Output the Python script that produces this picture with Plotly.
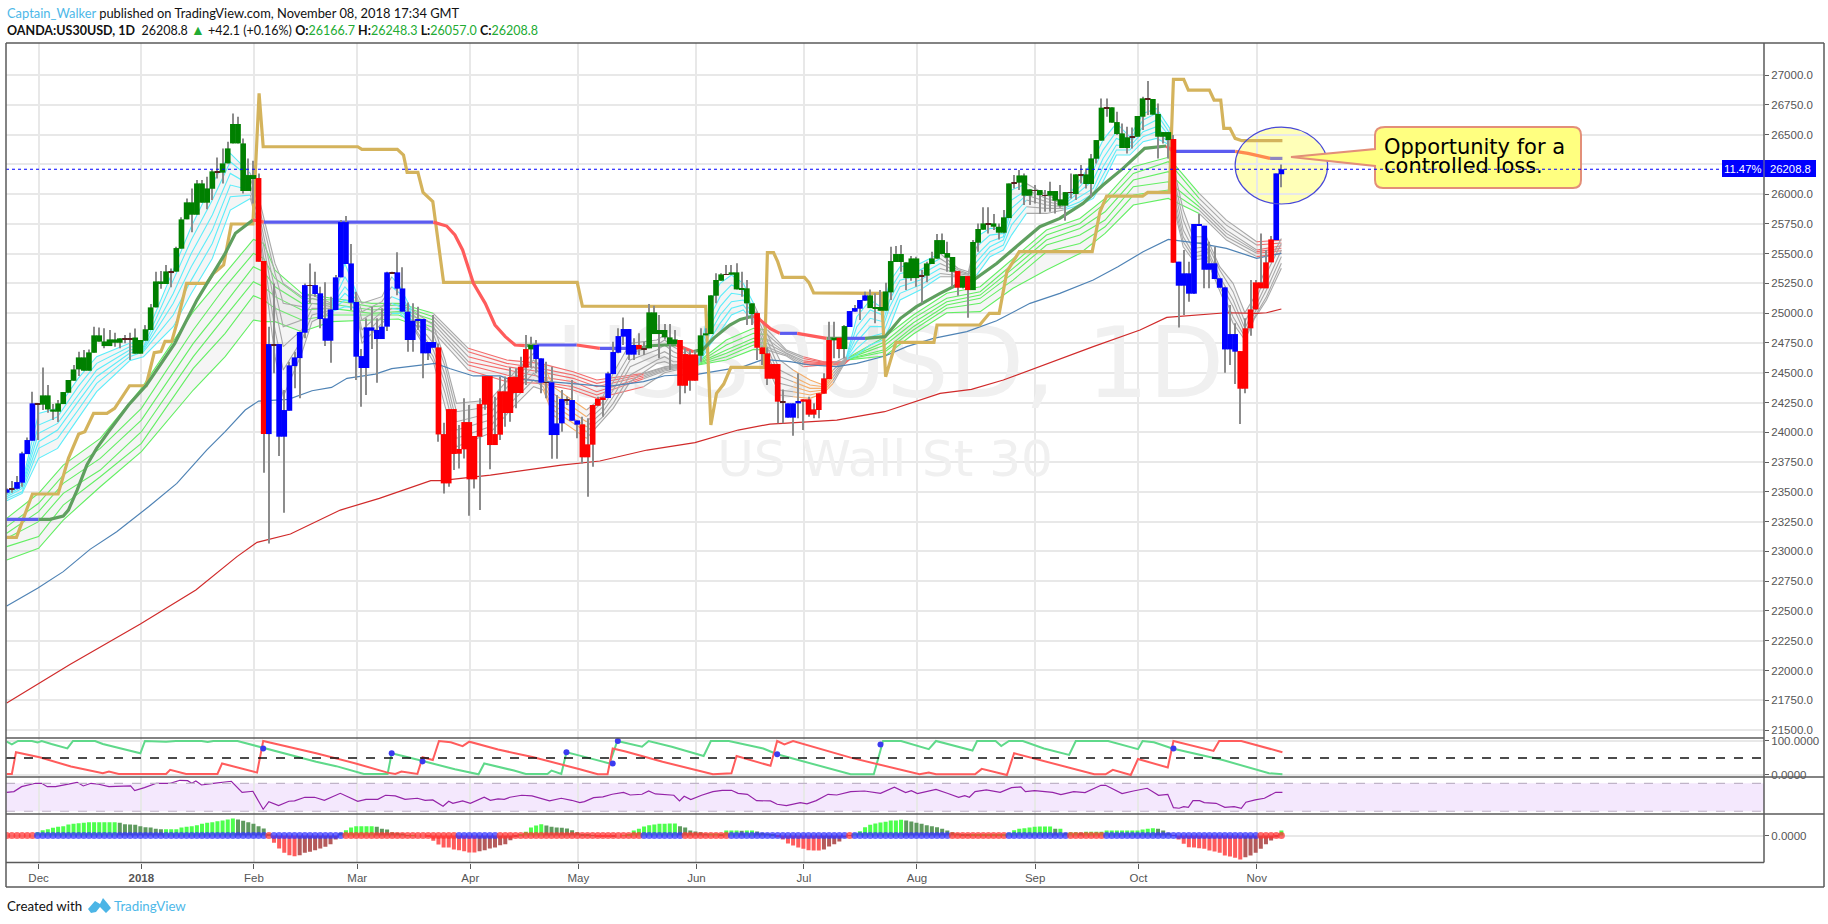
import plotly.graph_objects as go

# ---------- candles (prices) ----------
kind_runs = [("B",1),("D",1),("B",4),("D",1),("G",16),("D",2),("G",7),("D",1),("G",8),("D",1),("G",7),("R",2),("B",1),("D",1),("B",6),("D",1),("B",15),("D",1),("B",8),
("R",18),("G",1),("B",2),("D",1),("B",3),("D",1),("B",2),("R",5),("B",6),("R",1),("D",1),("G",6),("R",4),("G",5),("D",1),("G",5),("R",5),("D",1),("B",3),("R",6),("G",1),("R",1),("G",1),("B",4),
("G",10),("D",1),("G",6),("R",1),("G",1),("R",1),("G",3),("D",1),("G",4),("D",1),("G",3),("D",1),("G",1),("D",1),("G",4),("D",1),("G",1),("D",1),("G",4),("D",1),("G",4),("D",1),("G",2),("D",1),("G",4),("R",1),("B",12),("R",7),("B",2)]
bar_kinds = "".join(k * c for k, c in kind_runs)
body_top = [23521,23529,23582,23823,23935,24243,24243,24310,24310,24192,24243,24338,24439,24528,24629,24629,24671,24814,24814,24763,
24780,24780,24789,24789,24789,24796,24775,24865,25049,25267,25267,25351,25351,25547,25788,25931,25931,26090,26090,26048,
26191,26191,26258,26384,26589,26589,26426,26160,26160,26135,25438,24741,24741,24741,24187,24562,24629,24842,25236,25236,
25236,25167,24957,25032,25301,25765,25765,25418,25094,24640,24881,24881,24859,24887,25343,25343,25343,25208,25013,24937,
24951,24951,24758,24758,24713,23985,24195,24195,23860,24086,24086,23969,24237,24472,24472,23985,24344,24344,24464,24464,
24551,24699,24733,24733,24621,24420,24420,24075,24279,24276,24271,24100,24067,23899,24229,24282,24293,24495,24674,24808,
24867,24867,24733,24733,24705,25007,25007,24859,24859,24797,24780,24775,24657,24654,24654,24814,24831,25150,25279,25326,
25329,25343,25343,25209,25209,25083,25001,24713,24663,24573,24573,24257,24243,24243,24263,24277,24277,24193,24327,24453,
24775,24794,24794,24892,25018,25043,25111,25150,25150,25052,25052,25183,25438,25497,25497,25427,25460,25460,25315,25418,
25460,25614,25614,25505,25472,25354,25312,25312,25598,25707,25754,25754,25754,25726,25805,26090,26096,26157,26157,26040,
26034,26034,25992,26026,26026,25956,26017,26017,26166,26166,26166,26300,26454,26726,26726,26729,26605,26510,26477,26485,
26656,26804,26799,26799,26673,26521,26521,26463,25433,25335,25335,25749,25749,25735,25419,25419,25293,25217,24825,24825,
24682,24873,25032,25259,25259,25427,25620,26174,26209]
body_bottom = [23493,23521,23526,23577,23817,23929,24237,24232,24192,24173,24173,24237,24332,24433,24528,24517,24517,24668,24761,24724,
24724,24752,24752,24783,24783,24660,24660,24769,24859,25049,25245,25245,25345,25349,25542,25788,25827,25827,25928,25928,
26045,26185,26180,26258,26426,26426,26026,26026,26127,25432,23985,23985,24733,23963,23963,24181,24556,24623,24836,25231,
25161,24951,24769,24769,25027,25301,25413,25088,24635,24540,24540,24853,24783,24783,24887,25337,25206,25013,24775,24775,
24937,24663,24663,24710,23982,23571,23571,23818,23820,23857,23605,23605,23963,24232,23893,23893,23980,24162,24162,24330,
24330,24543,24696,24615,24416,24416,23977,23977,24075,24270,24097,24064,23790,23790,23896,24223,24271,24288,24489,24668,
24803,24652,24652,24699,24699,24705,24825,24825,24797,24741,24741,24391,24391,24433,24433,24643,24814,24825,25147,25273,
25323,25323,25200,25195,25083,24993,24710,24657,24450,24450,24257,24251,24123,24123,24243,24257,24148,24148,24187,24324,
24447,24772,24699,24699,24884,25013,25038,25105,25043,25043,25021,25021,25175,25430,25430,25295,25295,25295,25309,25315,
25413,25458,25497,25466,25348,25214,25214,25194,25194,25592,25701,25748,25726,25676,25676,25799,26090,26096,25987,25987,
26028,25992,25986,25987,25945,25903,25903,26011,26001,26160,26085,26085,26297,26449,26720,26600,26505,26387,26387,26479,
26482,26650,26793,26667,26482,26482,26454,25424,25231,25231,25164,25164,25735,25365,25365,25287,25214,24696,24696,24677,
24366,24366,24873,25032,25209,25209,25427,25614,26167]
wick_high = [23529,23591,23633,23837,23957,24341,24243,24545,24397,24237,24271,24338,24439,24565,24677,24691,24696,24887,24881,24873,
24859,24836,24789,24817,24836,24871,24775,24900,25077,25348,25354,25404,25376,25558,25805,25964,26048,26118,26118,26146,
26202,26308,26384,26440,26678,26650,26468,26300,26280,26174,25438,24887,25250,24741,24355,24593,24677,24842,25250,25418,
25348,25222,25259,25139,25320,25782,25816,25581,25180,24700,24957,25055,24957,25041,25348,25348,25511,25385,25090,25083,
25055,24951,24758,24985,24745,24080,24195,24195,24061,24285,24229,23969,24285,24472,24472,24299,24468,24468,24545,24537,
24635,24817,24803,24775,24621,24593,24551,24313,24355,24300,24439,24100,24131,24117,24229,24299,24293,24509,24761,24873,
24965,24867,24789,24831,24761,25077,25063,24985,24909,24909,24859,24775,24705,24691,24685,24873,24873,25150,25335,25335,
25405,25405,25419,25349,25279,25083,25013,24713,24713,24573,24573,24360,24243,24243,24495,24277,24299,24243,24327,24495,
24929,24929,24794,24900,25018,25069,25111,25181,25200,25167,25195,25256,25558,25564,25572,25427,25481,25474,25362,25432,
25516,25665,25670,25600,25472,25354,25312,25312,25614,25754,25889,25889,25833,25754,25866,26090,26160,26202,26174,26040,
26076,26034,26034,26104,26026,26076,26017,26174,26166,26244,26216,26336,26454,26804,26804,26729,26692,26594,26566,26560,
26656,26818,26950,26799,26762,26521,26521,26496,25433,25530,25433,25749,25833,25735,25600,25558,25293,25223,25069,24915,
24682,24957,25279,25279,25670,25530,25648,26174,26248]
wick_low = [23487,23493,23521,23543,23817,23929,23935,24187,24164,24103,24086,24237,24332,24433,24472,24517,24517,24668,24761,24705,
24724,24719,24705,24747,24607,24660,24660,24769,24859,25049,25206,25245,25217,25349,25542,25788,25679,25827,25928,25872,
25950,26132,26090,26258,26426,26426,26006,26026,25922,25432,23661,23067,24495,23801,23325,24181,24369,24285,24789,25083,
25139,24873,24724,24584,25027,25301,25413,25027,24439,24215,24313,24699,24416,24783,24850,25337,25150,25013,24677,24677,
24860,24453,24607,24710,23921,23487,23543,23683,23697,23781,23300,23529,23347,24190,23689,23893,23935,24047,24089,24201,
24330,24397,24543,24495,24327,24286,23778,23778,24005,24230,24097,23950,23739,23459,23711,24223,24131,24288,24489,24663,
24733,24607,24607,24649,24649,24705,24825,24621,24780,24523,24741,24235,24327,24349,24433,24593,24814,24825,25083,25273,
25323,25323,25200,25139,24900,24900,24607,24565,24397,24450,24075,24075,24123,23972,24117,24019,24131,24117,24117,24324,
24447,24621,24621,24621,24884,25013,24943,25105,25043,24915,25021,25021,25110,25430,25348,25194,25273,25222,25083,25259,
25413,25458,25497,25348,25222,25147,25208,24962,25194,25516,25701,25670,25698,25620,25670,25799,26048,26034,25908,25908,
25922,25833,25852,25852,25838,25886,25777,25964,25950,26090,26048,25978,26258,26449,26650,26600,26496,26387,26342,26384,
26482,26538,26664,26667,26300,26426,26300,25424,24881,24985,25097,25161,25735,25209,25209,25287,25214,24500,24565,24405,
24069,24327,24811,25027,25209,25209,25427,25614,26057]

# ---------- ticks ----------
month_pos = [6.2,26.2,48.1,68.2,90.2,111.2,134.2,155.1,177.1,200.1,220.2,243.2]
month_labels = ["Dec","<b>2018</b>","Feb","Mar","Apr","May","Jun","Jul","Aug","Sep","Oct","Nov"]
price_ticks = [21500,21750,22000,22250,22500,22750,23000,23250,23500,23750,24000,24250,24500,24750,25000,25250,25500,25750,26000,26250,26500,26750,27000]
price_labels = ["21500.0","21750.0","22000.0","22250.0","22500.0","22750.0","23000.0","23250.0","23500.0","23750.0","24000.0","24250.0","24500.0","24750.0","25000.0","25250.0","25500.0","25750.0","26000.0","","26500.0","26750.0","27000.0"]

# ---------- moving averages as read knots ----------
red_x = [0,12.3,26,36.8,44.8,48.7,55.2,64.9,72.5,82.5,84.4,94.1,107.9,115.4,124.6,133.9,142.3,148.5,161.5,170.8,181.6,187.7,193.9,200,211.4,220.5,225.7,237.3,243.2,245.1,248]
red_y = [21727,22050,22390,22676,22956,23076,23146,23347,23445,23594,23594,23641,23725,23759,23851,23913,24019,24069,24103,24173,24327,24361,24439,24537,24719,24859,24965,25004,24999,25004,25035]
blue_x = [0,6,11,16.2,21.4,27.6,33.1,38.9,42.5,46.4,49,54.8,59.4,63.2,66.2,71.7,74.9,83.4,86.3,90.8,96,97.3,109.6,116.7,123.9,128,134.6,143.3,147.2,152.4,156.3,161.5,165.4,170.9,175.1,180.3,186.8,192.6,199.1,204.9,211.4,216.2,221.1,226,232.1,237.3,243.2,248]
blue_y = [22541,22690,22830,23017,23165,23375,23571,23851,24005,24187,24262,24276,24349,24377,24453,24489,24534,24579,24534,24473,24473,24453,24411,24383,24425,24475,24489,24551,24612,24593,24565,24551,24579,24641,24719,24789,24845,24937,25083,25167,25279,25390,25516,25620,25587,25545,25461,25503]
gold_x = [0,1.9,5,10,12,14,15.2,16.9,19.5,21,23.9,27.1,28.7,30,30.8,32.1,33.1,35,38.9,40.2,42.2,43.7,47.9,49.1,49.9,68.3,69.1,76,77.2,77.9,80,81,82.9,85,111,112,136,137,138.1,139.5,140.9,147.4,148,149.2,150,151,155.2,156.1,157,170.2,171,173,180.4,181,189.3,191.2,193.1,194.6,197,211.2,212.7,214,221,222,226.2,227,229,229.9,234,234.9,236.2,236.8,238,239,240.3,248.2]
gold_y = [23118,23118,23482,23482,23781,23985,24005,24159,24159,24201,24391,24391,24668,24677,24763,24763,24915,25250,25250,25334,25405,25749,25749,26846,26398,26398,26376,26376,26328,26183,26183,26015,25937,25259,25259,25060,25058,24061,24327,24405,24545,24545,25508,25508,25433,25301,25301,25256,25170,25167,24467,24755,24755,24901,24901,24999,24999,25349,25517,25517,25852,25984,25984,26015,26015,26964,26964,26874,26874,26790,26790,26552,26552,26468,26449,26449]
thick_x = [0,6.2,8.4,11,12,13.7,15.6,17.5,19.8,23.7,27.2,32.7,37,42.5,44.5,47.9,50,83,85.6,87.2,88.7,90.8,93.1,95,97,98.9,100.8,102.8,110.9,115.4,122.2,123.2,125.2,128,130.3,133.6,135.5,137.5,140.7,142.7,145.3,146.6,148.5,150.4,153.8,159.5,163.4,167,170.9,173.9,177,181.6,184.8,188.1,192.6,196.8,201,204.9,209.4,213.3,217.2,221.4,225.6,227,239,241.5,245.8,248.2]
thick_y = [23269,23269,23269,23297,23347,23515,23725,23865,24005,24229,24397,24747,25110,25502,25671,25783,25765,25765,25732,25657,25531,25251,25083,24901,24803,24733,24727,24733,24733,24705,24705,24705,24727,24733,24733,24677,24696,24789,24901,24948,24976,24943,24873,24831,24831,24789,24789,24789,24803,24957,25055,25167,25236,25278,25418,25572,25726,25796,25922,26076,26216,26384,26404,26359,26359,26342,26300,26300]

# ---------- moving-average ribbons, top to bottom at each knot ----------
slow_ribbon = [
[0,23277,23208,23152,23110,23040,22928],[6.2,23488,23404,23334,23250,23124,23026],[11,23725,23641,23571,23487,23389,23263],
[18.2,23949,23865,23781,23683,23627,23543],[26.2,24369,24201,24103,24005,23907,23837],[36.3,25013,24859,24747,24635,24537,24355],
[42.5,25334,25222,25083,24971,24831,24635],[48,25620,25502,25390,25264,25147,24943],[50,25586,25460,25348,25222,25111,24929],
[52.2,25362,25292,25222,25139,25041,24929],[57.4,25167,25125,25083,25027,24943,24845],[63.2,25125,25111,25077,25041,24985,24929],
[71,25083,25055,25027,24999,24985,24943],[76.2,25083,25069,25041,25013,24985,24951],[83,24999,24971,24943,24915,24880,24845],
[89.8,24705,24677,24635,24593,24565,24523],[97.3,24607,24579,24551,24523,24481,24425],[103.8,24579,24537,24509,24467,24425,24411],
[110.2,24509,24481,24453,24425,24383,24355],[114.8,24439,24411,24383,24341,24313,24285],[123.9,24495,24488,24475,24462,24450,24383],
[128,24551,24545,24535,24525,24515,24500],[134.5,24590,24585,24580,24575,24570,24565],[140,24775,24733,24691,24663,24635,24607],
[145.3,24873,24831,24789,24761,24733,24696],[148,24860,24820,24780,24745,24715,24690],[151.7,24691,24680,24665,24660,24650,24640],
[155,24635,24620,24600,24585,24570,24551],[159,24593,24587,24581,24575,24570,24565],[162.8,24593,24588,24582,24576,24570,24565],
[164,24635,24630,24625,24620,24615,24610],[170.9,24803,24761,24733,24696,24677,24641],[176.4,24985,24957,24920,24887,24859,24825],
[182.9,25167,25125,25097,25069,25041,25004],[189.4,25222,25180,25152,25125,25083,25013],[195.8,25460,25418,25376,25334,25278,25209],
[202.3,25698,25656,25614,25572,25516,25362],[208.8,25796,25754,25712,25656,25586,25502],[213.7,25964,25922,25852,25782,25726,25670],
[219.2,26230,26174,26118,26062,25992,25908],[226,26309,26272,26188,26104,26034,25964],[232,26006,25964,25922,25894,25866,25838],
[237.3,25782,25740,25698,25670,25642,25614],[243.2,25600,25573,25531,25517,25503,25475],[248,25614,25590,25566,25545,25525,25503]]
fast_ribbon = [
[0,23501,23487,23473,23459,23445,23426],[3,23577,23557,23543,23529,23501,23487],[6.2,24159,24061,23991,23921,23865,23781],
[9.9,24201,24131,24075,24019,23949,23865],[13.9,24453,24383,24313,24257,24187,24117],[17.5,24635,24579,24523,24467,24411,24341],
[23.9,24747,24719,24691,24663,24635,24601],[26.6,24761,24719,24705,24691,24677,24635],[32.4,25362,25278,25166,25083,24985,24887],
[35.9,25726,25614,25502,25390,25278,25166],[40,26090,25950,25824,25698,25586,25460],[43.5,26342,26272,26174,26076,25978,25866],
[47.4,26174,26132,26076,26034,25992,25964],[49,25978,25908,25852,25796,25740,25712],[52.2,25418,25334,25194,25055,24859,24635],
[53.8,25250,25083,24887,24719,24523,24299],[57.4,25139,25055,24943,24859,24775,24663],[59.4,25152,25125,25083,25041,24985,24929],
[63.2,25083,25069,25055,25041,25027,25013],[65.8,25418,25306,25222,25167,25111,25055],[68.1,25167,25139,25111,25083,25069,25041],
[69.1,25083,25013,24943,24859,24789,24747],[73,25139,25097,25055,25013,24971,24915],[74.9,25306,25222,25139,25083,25041,24999],
[76.5,25222,25167,25111,25055,25027,24999],[78.8,25027,24999,24971,24943,24915,24900],[83,24900,24830,24747,24691,24635,24593],
[85.3,24607,24551,24481,24411,24327,24215],[87.5,24243,24173,24089,24019,23949,23879],[94,24271,24215,24159,24103,24047,23991],
[98.6,24495,24439,24383,24327,24271,24215],[102.5,24663,24607,24551,24495,24439,24383],[104.4,24579,24523,24467,24425,24383,24355],
[106.3,24383,24327,24271,24229,24187,24145],[112.8,24187,24131,24089,24047,24005,23949],[116,24299,24257,24215,24173,24131,24103],
[118,24495,24425,24355,24299,24243,24201],[121.3,24747,24663,24607,24551,24481,24425],[126.5,24775,24733,24691,24649,24607,24579],
[128,24817,24775,24733,24677,24635,24593],[129.7,24761,24719,24677,24635,24593,24565],[132,24691,24663,24635,24607,24593,24579],
[134.5,24590,24585,24580,24575,24570,24565],[136.8,25083,24971,24887,24831,24775,24733],[138.8,25251,25139,25055,24985,24915,24845],
[141,25321,25237,25167,25097,25041,24985],[143.3,25251,25195,25153,25111,25069,25027],[145.3,25083,25041,25013,24985,24957,24929],
[147.9,24831,24775,24719,24663,24607,24565],[150.4,24607,24523,24467,24411,24355,24313],[153,24523,24467,24425,24383,24341,24299],
[156.3,24439,24397,24369,24341,24313,24285],[158.9,24397,24383,24369,24355,24341,24327],[160.8,24579,24523,24495,24467,24439,24411],
[163.4,24635,24630,24625,24620,24615,24610],[165.4,24971,24887,24817,24761,24705,24649],[168,25111,25027,24957,24887,24803,24733],
[170.5,25041,24985,24929,24887,24831,24775],[171.8,25264,25194,25111,25055,24971,24887],[173.8,25390,25334,25278,25222,25167,25111],
[177.7,25418,25362,25320,25278,25236,25194],[181.6,25502,25460,25418,25376,25334,25306],[185.1,25376,25362,25348,25334,25320,25306],
[187.1,25348,25334,25326,25318,25306,25292],[188.7,25642,25558,25488,25432,25376,25320],[191.3,25712,25656,25600,25558,25516,25474],
[193.9,25712,25670,25642,25614,25572,25530],[195.5,26034,25950,25880,25810,25740,25656],[198.4,26090,26034,25992,25950,25894,25838],
[202.3,25992,25964,25936,25908,25880,25838],[205.6,25936,25922,25908,25894,25880,25866],[208.8,26118,26062,26020,25978,25936,25908],
[211.4,26286,26202,26118,26048,26006,25964],[213.3,26454,26370,26300,26230,26160,26104],[215.9,26594,26524,26468,26412,26370,26328],
[218.5,26482,26454,26426,26398,26370,26328],[221.1,26678,26622,26566,26524,26482,26440],[223.7,26720,26678,26622,26566,26524,26468],
[226.3,26552,26510,26482,26454,26426,26412],[227.6,26118,26034,25964,25894,25838,25796],[228.9,25866,25782,25698,25642,25600,25558],
[230.8,25642,25586,25544,25503,25475,25447],[233.4,25642,25600,25558,25531,25489,25461],[236,25391,25363,25307,25265,25223,25195],
[238.6,25251,25181,25111,25055,24971,24915],[240.9,25004,24929,24873,24831,24803,24775],[242.8,25139,25083,25041,25004,24971,24957],
[245.1,25391,25335,25251,25195,25139,25111],[248,25628,25586,25531,25475,25419,25377]]

# ---------- stochastic ----------
stoch_k_x = [0,1,2.2,4.9,6,6.8,8.7,11.8,12.9,17.2,18.7,26,26.9,31,32.9,37.9,39.1,40.2,44.9,49.5,52.5,60.2,64.1,69.5,74.1,74.9,80.2,87.2,91.8,92.9,98.7,101,105.2,106,107.9,108.9,111.5,117.3,118.8,123.6,124.9,129.4,135.6,137,140.5,147.2,149.9,156.2,164.2,168.7,170.5,174,179.4,180.8,182.5,187.9,188.8,192.4,193.5,195,197.7,201.8,206.7,208,214.3,220.1,221,223.2,226.8,236.6,245.6,248.2]
stoch_k_y = [98,90,100,100,96,100,91,78,100,100,91,64,100,98,100,100,97,100,100,81,69,39,26,3,3,64,44,17,2,34,13,3,3,13,3,67,57,34,100,83,100,83,56,100,100,78,61,34,2,2,100,100,76,100,93,72,100,100,85,100,100,78,59,100,100,76,100,96,78,44,5,2]
stoch_d_x = [0,1,1.8,6.4,12.5,18.7,19.9,21.8,31,31.8,34.9,41,41.9,48.7,49.9,52.5,60.2,67.9,74.1,75.6,76.8,79.9,80.9,82.9,84.1,86.4,88.7,90,95.6,102.5,108.7,111.5,115,116.9,117.9,120.4,127.6,137.4,141,142,148.6,149.9,151.3,153,164.2,177.6,179.4,180.8,188.4,189.7,194.6,196,211.6,213.8,215.2,218.7,220.1,225.9,227,234.8,235.9,240.2,248.2]
stoch_d_y = [3,3,67,52,25,5,10,3,3,15,3,3,34,7,100,91,64,34,7,3,10,3,52,44,100,96,85,98,75,52,29,17,2,2,78,69,39,2,5,56,27,100,90,100,51,2,7,2,2,18,0,64,2,2,15,0,47,22,100,71,100,100,67]
cross_x = [49.9,74.9,80.9,108.9,117.9,118.9,149.9,170,227]
cross_y = [78,64,40,67,34,100,61,90,78]

# ---------- RSI ----------
rsi_x = [0,1.4,2.9,4.5,5.6,6.8,7.9,9.5,11.8,13.7,14.9,16.4,17.9,19.9,24.1,24.9,26.8,29.1,31.8,33.7,35.2,36,36.8,37.9,40.2,43.7,45.8,47.9,49.9,51,52.9,54.9,56,58,59.9,61.8,64.9,68.3,69.9,72.2,73.7,75.6,77.5,79.9,81.4,82.9,84.9,86,86.8,88.7,90.2,92.9,94.1,95.6,96.8,97.9,100.2,102.2,105.6,107.9,109.9,
111.5,112.4,114.2,116,117.8,120,121.3,123.6,124.9,126.2,129.8,130.9,131.8,133.1,135.2,137.4,139.2,141,142.3,144.1,145.9,148.6,149.9,151.7,154.4,155.7,157.5,159.8,161.5,164.2,166.9,170,172.7,174.9,176,177.2,179,180.8,183,185.2,186.4,187.3,188.4,190.6,193.3,195.5,197.3,198.2,200,203.5,205.1,207.6,209.8,212.9,213.8,217,219.2,221.9,224.1,225.9,227,228.1,229,229.9,230.8,232.1,233,235.3,237,238.8,240.2,241.1,242.9,244.7,246.9,248.2]
rsi_y = [57.1,58.1,65.2,67.6,70,70,65.2,65.2,68.6,71.4,66.2,70,68.6,65.2,66.2,59.5,63.8,70,70,74.3,73.8,70,73.3,67.6,70,72.9,57.1,58.6,32.9,43.8,38.1,44.3,44.8,50,50,45.7,55.7,44.3,47.1,47.1,52.9,51.9,47.1,48.6,45.7,46.2,37.1,44.3,41.4,44.8,41.4,50,45.7,47.6,47.1,50,52.9,51.9,44.8,48.6,45.7,
42.4,43.8,49.5,50.5,54.3,57.1,53.3,54.3,59,54.8,52.9,44.8,51.4,46.7,52.9,58.1,60,60,55.7,54.3,45.2,44.8,40,38.1,42.4,40.5,45.2,54.3,53.3,58.1,59,55.7,64.3,56.7,59.5,55.2,58.1,61.4,55.7,50,52.4,50,58.1,60.5,57.1,63.8,64.8,58.1,59.5,57.1,53.8,58.1,56.7,67.1,67.1,55.2,59,62.9,52.9,54.3,35.2,34.3,36.7,35.7,45.2,45.2,42.4,41.4,35.7,36.7,34.3,42.9,46.2,48.6,57.1,57.1]

# ---------- squeeze momentum ----------
momentum = [0,0,0,0,0,0,10,16,19,23,26,28,33,35,37,38,40,40,40,40,40,40,38,34,33,32,28,25,24,20,19,19,19,19,24,26,28,31,35,38,40,43,45,48,51,48,44,40,35,28,21,5,
-22,-39,-52,-59,-62,-59,-52,-49,-44,-39,-34,-26,-12,8,16,24,28,28,28,28,26,20,18,10,8,6,1,1,0,0,-4,-16,-27,-36,-36,-42,-44,-47,-51,-51,-47,-44,-39,-36,-29,-26,-14,-4,
4,11,24,30,34,30,26,24,23,21,16,10,4,2,1,-2,-3,-3,-2,0,1,
3,15,20,27,31,33,35,35,36,36,28,24,15,12,10,6,6,6,5,15,15,15,14,15,15,12,8,6,2,
-5,-12,-24,-30,-36,-40,-44,-45,-45,-42,-33,-26,-18,-6,-1,
7,13,25,32,36,39,41,45,45,47,45,42,38,35,31,28,25,20,15,10,6,3,2,2,2,2,2,2,3,3,
8,16,20,22,24,26,27,27,27,20,20,8,10,10,9,11,11,11,11,15,15,15,15,15,15,15,18,20,22,20,15,8,
-1,-12,-25,-35,-36,-38,-40,-45,-48,-52,-60,-63,-67,-72,-65,-60,-52,-40,-26,-15,-5,15]
squeeze_spans = [(5,0),(50,1),(51,0),(65,1),(87,0),(95,1),(123,0),(131,1),(140,0),(163,1),(164,0),(183,1),(194,0),(206,1),(213,0),(243,1),(249,0)]

# ---------- price scale ----------
PRICE_LAST = 26208.8
AXIS_RANGE = [-0.14, 341.9]
MAIN_RANGE = [21433, 27269]

# ---------- page geometry helpers ----------
L, R, T, B = 6, 1764, 43, 863
def px(x): return (x - L) / (R - L)
def py(y): return (B - y) / (B - T)

n = len(body_top)
assert n == len(body_bottom) == len(wick_high) == len(wick_low) == len(bar_kinds) == len(momentum), (
    n, len(body_bottom), len(wick_high), len(wick_low), len(bar_kinds), len(momentum))
assert len(stoch_k_x) == len(stoch_k_y) and len(stoch_d_x) == len(stoch_d_y) and len(rsi_x) == len(rsi_y), (
    len(stoch_k_x), len(stoch_k_y), len(stoch_d_x), len(stoch_d_y), len(rsi_x), len(rsi_y))
xs = list(range(n))

def lookup(spans, v):
    for end, c in spans:
        if v <= end:
            return c
    return spans[-1][1]

def paths(x, y, spans, store):
    prev = None
    for k in range(len(x) - 1):
        c = lookup(spans, (x[k] + x[k + 1]) / 2)
        s = store.setdefault(c, ([], []))
        if prev != c:
            s[0].extend([None, x[k]]); s[1].extend([None, y[k]])
        s[0].append(x[k + 1]); s[1].append(y[k + 1])
        prev = c

CY, GN, GY, RD, OR = "#5cedfa", "#62ef62", "#a8a8a8", "#f46a6a", "#f5ae6a"
slow_spans = [(80,GN),(90,GY),(124,RD),(134,GY),(148,GN),(154,GY),(164,RD),(232,GN),(243,GY),(247,RD),(249,GY)]
fast_spans = [(48,CY),(64,GY),(68,CY),(75,GY),(79,CY),(105,GY),(114,OR),(134,GY),(145,CY),(154,GY),(161,OR),(164,GY),(183,CY),(188,GY),(200,CY),(207,GY),(226,CY),(249,GY)]

fig = go.Figure()

# watermark
fig.add_trace(go.Scatter(x=[171.9], y=[24500], mode="text", text=["US30USD, 1D"],
    textfont=dict(family="DejaVu Sans", size=98, color="#f0f0f0"), yaxis="y"))
fig.add_trace(go.Scatter(x=[170.9], y=[23740], mode="text", text=["US Wall St 30"],
    textfont=dict(family="DejaVu Sans", size=50, color="#f0f0f0"), yaxis="y"))

# ribbon fills and lines
for table, spans in ((slow_ribbon, slow_spans), (fast_ribbon, fast_spans)):
    rx = [r[0] for r in table]
    top = [r[1] for r in table]
    low = [r[6] for r in table]
    fig.add_trace(go.Scatter(x=rx + rx[::-1], y=top + low[::-1], mode="lines", fill="toself",
        fillcolor="rgba(190,190,190,0.16)", line=dict(width=0), yaxis="y"))
    store = {}
    for col in range(1, 7):
        paths(rx, [r[col] for r in table], spans, store)
    for c, (a, b) in store.items():
        fig.add_trace(go.Scatter(x=a, y=b, mode="lines", line=dict(color=c, width=1.1), connectgaps=False, yaxis="y"))

fig.add_trace(go.Scatter(x=blue_x, y=blue_y, mode="lines", line=dict(color="#4f83b5", width=1.2), yaxis="y"))
fig.add_trace(go.Scatter(x=red_x, y=red_y, mode="lines", line=dict(color="#d02a2a", width=1.2), yaxis="y"))

TB, TG, TR = "#5c5cf0", "#5f9f5f", "#ff5c5c"
thick_spans = [(6.2,TB),(47.9,TG),(50,TR),(83,TB),(100.8,TR),(102.8,TG),(110.9,TB),(115.4,TR),(122.2,TB),(123.2,TR),(130.3,TG),(133.6,TR),(145.3,TG),(150.4,TR),(153.8,TB),(159.5,TR),(163.4,TG),(167,TB),(225.6,TG),(227,TR),(239,TB),(245.8,"#ff8a50"),(249,"#8f86c0")]
store = {}
paths(thick_x, thick_y, thick_spans, store)
fig.add_trace(go.Scatter(x=gold_x, y=gold_y, mode="lines", line=dict(color="#d4b35c", width=3.2), yaxis="y"))
for c, (a, b) in store.items():
    fig.add_trace(go.Scatter(x=a, y=b, mode="lines", line=dict(color=c, width=3.2), yaxis="y"))

# candles on an overlay axis so they sit above the lines
KIND = {"G": "#008000", "B": "#0000ff", "R": "#ff0000", "D": "#5a1e1e"}
fig.add_trace(go.Bar(x=xs, y=[h - l for h, l in zip(wick_high, wick_low)], base=wick_low, width=0.2,
    marker=dict(color="#8c8c8c", line=dict(width=0)), yaxis="y5"))
fig.add_trace(go.Bar(x=xs, y=[t - b for t, b in zip(body_top, body_bottom)], base=body_bottom, width=1.1,
    marker=dict(color=[KIND[k] for k in bar_kinds], line=dict(width=0)), yaxis="y5"))

# stochastic
fig.add_trace(go.Scatter(x=stoch_k_x, y=stoch_k_y, mode="lines", line=dict(color="#5fd98a", width=2), yaxis="y2"))
fig.add_trace(go.Scatter(x=stoch_d_x, y=stoch_d_y, mode="lines", line=dict(color="#ff5c5c", width=2), yaxis="y2"))
fig.add_trace(go.Scatter(x=cross_x, y=cross_y, mode="markers", marker=dict(color="#3a3af0", size=6), yaxis="y2"))

# RSI
fig.add_trace(go.Scatter(x=rsi_x, y=rsi_y, mode="lines", line=dict(color="#9423a8", width=1.2), yaxis="y3"))

# momentum histogram
hist_colors = []
for k, v in enumerate(momentum):
    prev = momentum[k - 1] if k else 0
    growing = abs(v) >= abs(prev)
    if v >= 0:
        hist_colors.append("#4dff4d" if growing else "#5f9a5f")
    else:
        hist_colors.append("#ff5c5c" if growing else "#b55a5a")
fig.add_trace(go.Bar(x=xs, y=momentum, width=0.78, marker=dict(color=hist_colors, line=dict(width=0)), yaxis="y4"))
dot_colors = ["rgba(50,50,255,0.72)" if lookup(squeeze_spans, k) else "rgba(255,50,50,0.72)" for k in xs]
fig.add_trace(go.Scatter(x=xs, y=[0] * n, mode="markers", marker=dict(color=dot_colors, size=7, line=dict(width=0)), yaxis="y4"))

FRAME = "#5a5a5a"
def hline(x0, x1, y, color=FRAME, w=1.5, dash=None, layer="above"):
    return dict(type="line", xref="paper", yref="paper", x0=px(x0), x1=px(x1), y0=py(y), y1=py(y),
                line=dict(color=color, width=w, dash=dash), layer=layer)
def vline(x, y0, y1):
    return dict(type="line", xref="paper", yref="paper", x0=px(x), x1=px(x), y0=py(y0), y1=py(y1),
                line=dict(color=FRAME, width=1.5), layer="above")

def P(x, y):
    return f"{px(x):.6f},{py(y):.6f}"
callout = (f"M {P(1385,127)} L {P(1573,127)} Q {P(1581,127)} {P(1581,135)} L {P(1581,180)} Q {P(1581,188)} {P(1573,188)} "
           f"L {P(1383,188)} Q {P(1375,188)} {P(1375,180)} L {P(1375,166)} L {P(1291,157)} L {P(1375,149)} "
           f"L {P(1375,135)} Q {P(1375,127)} {P(1385,127)} Z")
icon = (f"M {P(88,909)} L {P(95,901)} L {P(100,904)} L {P(103,898)} L {P(108,904)} L {P(111,908)} L {P(106,913)} "
        f"L {P(100,907)} L {P(96,912)} L {P(91,913)} Z")

shapes = [
    dict(type="rect", xref="paper", yref="y3", x0=0, x1=1, y0=30, y1=70, fillcolor="#f4e8fd", line=dict(width=0), layer="below"),
    dict(type="line", xref="paper", yref="y3", x0=0, x1=1, y0=70, y1=70, line=dict(color="#c0b4c8", width=1.2, dash="dash"), layer="above"),
    dict(type="line", xref="paper", yref="y3", x0=0, x1=1, y0=30, y1=30, line=dict(color="#c0b4c8", width=1.2, dash="dash"), layer="above"),
    dict(type="line", xref="paper", yref="y2", x0=0, x1=1, y0=50, y1=50, line=dict(color="#111111", width=1.5, dash="dash"), layer="above"),
    dict(type="circle", xref="x", yref="y", x0=239.0, x1=257.0, y0=25917, y1=26563,
         fillcolor="rgba(255,255,140,0.62)", line=dict(width=0), layer="below"),
    dict(type="circle", xref="x", yref="y", x0=239.0, x1=257.0, y0=25917, y1=26563,
         fillcolor="rgba(0,0,0,0)", line=dict(color="#4848d8", width=1.2), layer="above"),
    dict(type="path", xref="paper", yref="paper", path=callout, fillcolor="#ffff80", line=dict(color="#e38f78", width=2), layer="above"),
    dict(type="path", xref="paper", yref="paper", path=icon, fillcolor="#4cb5e6", line=dict(width=0), layer="above"),
    dict(type="line", xref="paper", yref="y", x0=0, x1=px(1722), y0=PRICE_LAST, y1=PRICE_LAST,
         line=dict(color="#0000ff", width=1.2, dash="dot"), layer="above"),
    hline(6, 1824, 43), hline(6, 1764, 738), hline(6, 1824, 777), hline(6, 1824, 814), hline(6, 1764, 862.5), hline(6, 1824, 887),
    vline(6, 43, 887), vline(1764, 43, 862.5), vline(1824, 43, 887),
]

GREEN = "#22ab33"
sp = lambda s: f'<span style="color:{GREEN}">{s}</span>'
def note(x, y, text, size=13, color="#111111", family="Lato", anchor="left", bg=None):
    return dict(xref="paper", yref="paper", x=px(x), y=py(y), text=text, showarrow=False, xanchor=anchor, yanchor="middle",
                font=dict(family=family, size=size, color=color), align="left", bgcolor=bg, borderpad=0)

annotations = [
    note(6, 13, '<span style="color:#4db8e8">Captain_Walker</span> published on TradingView.com, November 08, 2018 17:34 GMT', size=12.9),
    note(6, 30, f'<b>OANDA:US30USD, 1D</b>  26208.8 <span style="color:{GREEN};font-size:14px">▲</span> +42.1 (+0.16%) <b>O:</b>{sp("26166.7")} <b>H:</b>{sp("26248.3")} <b>L:</b>{sp("26057.0")} <b>C:</b>{sp("26208.8")}', size=12.5),
    note(6, 906, "Created with", size=13.3),
    note(113, 906, "TradingView", size=13.3, color="#4db8e8"),
    note(1383, 147, "Opportunity for a", size=21, family="DejaVu Sans", color="#000000"),
    note(1383, 166, "controlled loss.", size=21, family="DejaVu Sans", color="#000000"),
]
for x0, x1, label in ((1722, 1763.5, "11.47%"), (1764.5, 1816, "26208.8")):
    shapes.append(dict(type="rect", xref="paper", yref="paper", x0=px(x0), x1=px(x1), y0=py(177), y1=py(160),
                       fillcolor="#0000ff", line=dict(width=0), layer="above"))
    annotations.append(note((x0 + x1) / 2, 168.5, label, size=11.3, color="#ffffff", family="Liberation Sans", anchor="center"))

GRID = "#e8e8e8"
TICKFONT = dict(family="Liberation Sans", size=11.5, color="#555555")
def yax(domain_top, domain_bot, **kw):
    base = dict(domain=[py(domain_bot), py(domain_top)], side="right", anchor="x", gridcolor=GRID, gridwidth=1.5,
                zeroline=False, showline=False, ticks="outside", ticklen=4, tickcolor=FRAME, tickfont=TICKFONT, fixedrange=True)
    base.update(kw)
    return base

fig.update_layout(
    width=1828, height=924, paper_bgcolor="white", plot_bgcolor="white", showlegend=False, hovermode=False,
    margin=dict(l=L, r=1828 - R, t=T, b=924 - B), barmode="overlay",
    xaxis=dict(domain=[0, 1], range=AXIS_RANGE, anchor="y4", tickmode="array", tickvals=month_pos, ticktext=month_labels,
               showgrid=True, gridcolor=GRID, gridwidth=1.5, zeroline=False, showline=False, ticks="outside", ticklen=5,
               tickcolor=FRAME, tickfont=TICKFONT, tickangle=0, fixedrange=True),
    yaxis=yax(43, 738, range=MAIN_RANGE, tickmode="array", tickvals=price_ticks, ticktext=price_labels),
    yaxis2=yax(738, 777, range=[-5.9, 108.8], tickmode="array", tickvals=[0, 100], ticktext=["0.0000", "100.0000"]),
    yaxis3=yax(777, 814, range=[26.1, 79], showgrid=False, showticklabels=False, ticks=""),
    yaxis4=yax(814, 862.5, range=[-81, 64.5], tickmode="array", tickvals=[0], ticktext=["0.0000"]),
    yaxis5=dict(domain=[py(738), py(43)], overlaying="y", side="right", anchor="x", range=MAIN_RANGE, showgrid=False,
                showticklabels=False, ticks="", zeroline=False, showline=False, fixedrange=True),
    shapes=shapes, annotations=annotations,
)

fig.write_html("out.html", config={"displayModeBar": False}, post_script="document.body.style.margin='0';")
